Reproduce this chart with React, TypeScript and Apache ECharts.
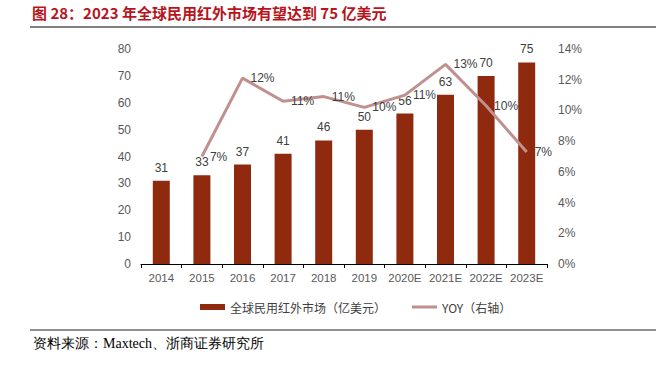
import React, { useEffect, useRef } from "react";
import * as echarts from "echarts";

const categories = ["2014", "2015", "2016", "2017", "2018", "2019", "2020E", "2021E", "2022E", "2023E"];
const marketValues = [31, 33, 37, 41, 46, 50, 56, 63, 70, 75];
const yoyValues: (number | null)[] = [null, 7.0, 12.1, 10.6, 10.9, 10.2, 11.0, 13.0, 10.3, 7.3];
const barName = "全球民用红外市场（亿美元）";
const lineName = "YOY（右轴）";
const titleText = "图 28：2023 年全球民用红外市场有望达到 75 亿美元";
const sourceText = "资料来源：Maxtech、浙商证券研究所";

const lineLegendIcon =
  "path://M0,0L25,0L25,0.01L0,0.01Z M0,1.5L25,1.5L25,4.5L0,4.5Z M0,5.99L25,5.99L25,6L0,6Z";

export default function App() {
  const ref = useRef<HTMLDivElement>(null);
  useEffect(() => {
    document.body.style.margin = "0";
    if (!ref.current) return;
    const chart = echarts.init(ref.current, undefined, { renderer: "svg" });
    const axisLabelStyle = { color: "#595959", fontSize: 12, fontFamily: "Liberation Sans, Arial, sans-serif" };
    const valueLabel = {
      color: "#404040",
      fontSize: 12,
      fontFamily: "Liberation Sans, Arial, sans-serif",
    };
    chart.setOption({
      animation: false,
      backgroundColor: "#ffffff",
      grid: { left: 141, right: 114, top: 49, bottom: 102, containLabel: false },
      legend: {
        left: 195,
        top: 296,
        itemWidth: 25,
        itemHeight: 6,
        itemGap: 26,
        textStyle: { color: "#404040", fontSize: 12, fontFamily: "Noto Sans CJK SC, sans-serif" },
        data: [
          { name: barName, icon: "rect" },
          { name: lineName, icon: lineLegendIcon },
        ],
      },
      xAxis: {
        type: "category",
        data: categories,
        axisLine: { lineStyle: { color: "#000000", width: 1 } },
        axisTick: { show: true, length: 4, lineStyle: { color: "#000000" } },
        axisLabel: { ...axisLabelStyle, fontSize: 11.5, margin: 8, interval: 0 },
      },
      yAxis: [
        {
          type: "value",
          min: 0,
          max: 80,
          interval: 10,
          splitLine: { show: false },
          axisLine: { show: false },
          axisTick: { show: false },
          axisLabel: { ...axisLabelStyle, margin: 10 },
        },
        {
          type: "value",
          min: 0,
          max: 14,
          interval: 2,
          splitLine: { show: false },
          axisLine: { show: false },
          axisTick: { show: false },
          axisLabel: { ...axisLabelStyle, margin: 11, formatter: "{value}%" },
        },
      ],
      series: [
        {
          name: barName,
          type: "bar",
          data: marketValues,
          barWidth: 17,
          itemStyle: { color: "#8F2A0E" },
          label: { show: true, position: "top", distance: 7, ...valueLabel },
        },
        {
          name: lineName,
          type: "line",
          yAxisIndex: 1,
          data: yoyValues,
          symbol: "circle",
          symbolSize: 0,
          showSymbol: true,
          z: 3,
          lineStyle: { color: "#C0908E", width: 3 },
          itemStyle: { color: "#C0908E" },
          label: {
            show: true,
            position: "right",
            distance: 8,
            ...valueLabel,
            formatter: (p: any) => `${Math.round(p.value)}%`,
          },
        },
      ],
      graphic: [
        {
          type: "text",
          left: 32,
          top: 5,
          style: {
            text: titleText,
            fill: "#B8141C",
            font: "bold 15px 'Noto Sans CJK SC', sans-serif",
          },
        },
        {
          type: "line",
          shape: { x1: 30, y1: 27, x2: 656, y2: 27 },
          style: { stroke: "#808080", lineWidth: 2 },
        },
        {
          type: "line",
          shape: { x1: 30, y1: 330, x2: 656, y2: 330 },
          style: { stroke: "#909090", lineWidth: 2 },
        },
        {
          type: "text",
          left: 33,
          top: 336,
          style: {
            text: sourceText,
            fill: "#000000",
            font: "14px 'Liberation Serif', serif",
          },
        },
      ],
    });
    return () => chart.dispose();
  }, []);
  return <div ref={ref} style={{ width: 661, height: 366 }} />;
}
